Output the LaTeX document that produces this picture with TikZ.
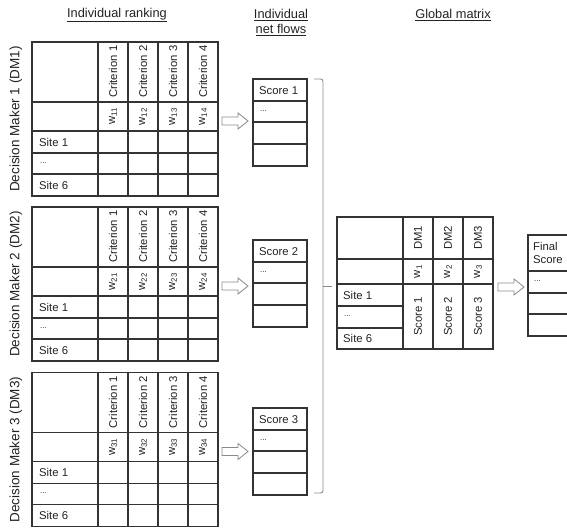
\documentclass[tikz,border=0pt]{standalone}
\usepackage{fontspec}
\setmainfont{Liberation Sans}
\definecolor{ink}{HTML}{222222}
\definecolor{rule}{HTML}{333333}
\definecolor{soft}{HTML}{8A8A8A}
\begin{document}
\begin{tikzpicture}[x=1pt,y=-1pt,
  grid/.style={draw=rule,line width=1.1pt},
  txt/.style={text=ink,inner sep=0pt,font=\fontsize{11.3}{13}\selectfont},
  vtxt/.style={txt,rotate=90},
  dots/.style={text=ink,inner sep=0pt,font=\fontsize{8}{9}\selectfont,anchor=west},
  title/.style={text=ink,inner sep=0pt,font=\fontsize{12.8}{15}\selectfont,align=center},
  dmlabel/.style={text=ink,inner sep=0pt,rotate=90,font=\fontsize{13.5}{16}\selectfont},
  blockarrow/.style={draw=soft,line width=0.8pt,line join=miter},
  bracket/.style={draw=soft,line width=0.9pt}]
\useasboundingbox (0,0) rectangle (567,527);
\clip (0,0) rectangle (567,527);

% titles
\node[title] (t1) at (117,15) {\underline{Individual ranking}};
\node[title] (t2) at (281,22.5) {\underline{Individual}\\\underline{net flows}};
\node[title] (t3) at (453,15) {\underline{Global matrix}};

% three individual ranking tables with score columns
\foreach \ty/\k/\s in {42/1/79, 207/2/240, 372.5/3/408}{
  \draw[grid] (32,\ty) rectangle (218,{\ty+154});
  \foreach \dy in {60,89,111,132}
    \draw[grid] (32,{\ty+\dy}) -- (218,{\ty+\dy});
  \foreach \xx in {98,128,158,188}
    \draw[grid] (\xx,\ty) -- (\xx,{\ty+154});
  \foreach \c in {1,...,4}{
    \node[vtxt,anchor=west] (cr\k\c) at ({83+30*\c},{\ty+56}) {Criterion \c};
    \node[vtxt] (w\k\c) at ({83+30*\c},{\ty+74.5}) {w\textsubscript{\k\c}};
  }
  \node[txt,anchor=west] (sa\k) at (39,{\ty+100}) {Site 1};
  \node[dots] (sb\k) at (40,{\ty+121}) {...};
  \node[txt,anchor=west] (sc\k) at (39,{\ty+143}) {Site 6};
  \node[dmlabel] (dm\k) at (16,{\ty+77}) {Decision Maker \k\ (DM\k)};
  % block arrow
  \draw[blockarrow] (222,{\ty+79-4}) -- (238,{\ty+79-4}) -- (238,{\ty+79-8})
     -- (248,{\ty+79}) -- (238,{\ty+79+8}) -- (238,{\ty+79+4})
     -- (222,{\ty+79+4}) -- cycle;
  % score box
  \draw[grid] (253,\s) rectangle (307,{\s+87});
  \foreach \dy in {22,43,65}
    \draw[grid] (253,{\s+\dy}) -- (307,{\s+\dy});
  \node[txt,anchor=west] (sh\k) at (259,{\s+11.5}) {Score \k};
  \node[dots] (sd\k) at (260,{\s+32}) {...};
}

% bracket
\coordinate (bt) at (314,79);
\coordinate (bb) at (314,493);
\coordinate (bm) at (332,286);
\draw[bracket,rounded corners=2.5pt] (bt) -- (323,79) -- (323,493) -- (bb);
\draw[bracket] (323,286) -- (bm);

% global matrix
\draw[grid] (337,217) rectangle (493,349);
\draw[grid] (337,259) -- (493,259);
\draw[grid] (337,284) -- (493,284);
\draw[grid] (337,306) -- (403,306);
\draw[grid] (337,328) -- (403,328);
\foreach \xx in {403,433,463}
  \draw[grid] (\xx,217) -- (\xx,349);
\foreach \k in {1,2,3}{
  \node[vtxt] (gd\k) at ({388+30*\k},238) {DM\k};
  \node[vtxt] (gw\k) at ({388+30*\k},271.5) {w\textsubscript{\k}};
  \node[vtxt] (gs\k) at ({388+30*\k},316.5) {Score \k};
}
\node[txt,anchor=west] (g1) at (343,295) {Site 1};
\node[dots] (g2) at (344,316) {...};
\node[txt,anchor=west] (g3) at (343,338.5) {Site 6};

% arrow to final
\draw[blockarrow] (498,283) -- (514,283) -- (514,279) -- (524,287)
   -- (514,295) -- (514,291) -- (498,291) -- cycle;

% final score box
\draw[grid] (580,235) -- (528,235) -- (528,336) -- (580,336);
\foreach \yy in {271,293,314}
  \draw[grid] (528,\yy) -- (580,\yy);
\node[txt,anchor=west,align=left,font=\fontsize{11.3}{12.5}\selectfont] (fh) at (533,253) {Final\\Score};
\node[dots] (fd) at (534,281) {...};
\end{tikzpicture}
\end{document}
